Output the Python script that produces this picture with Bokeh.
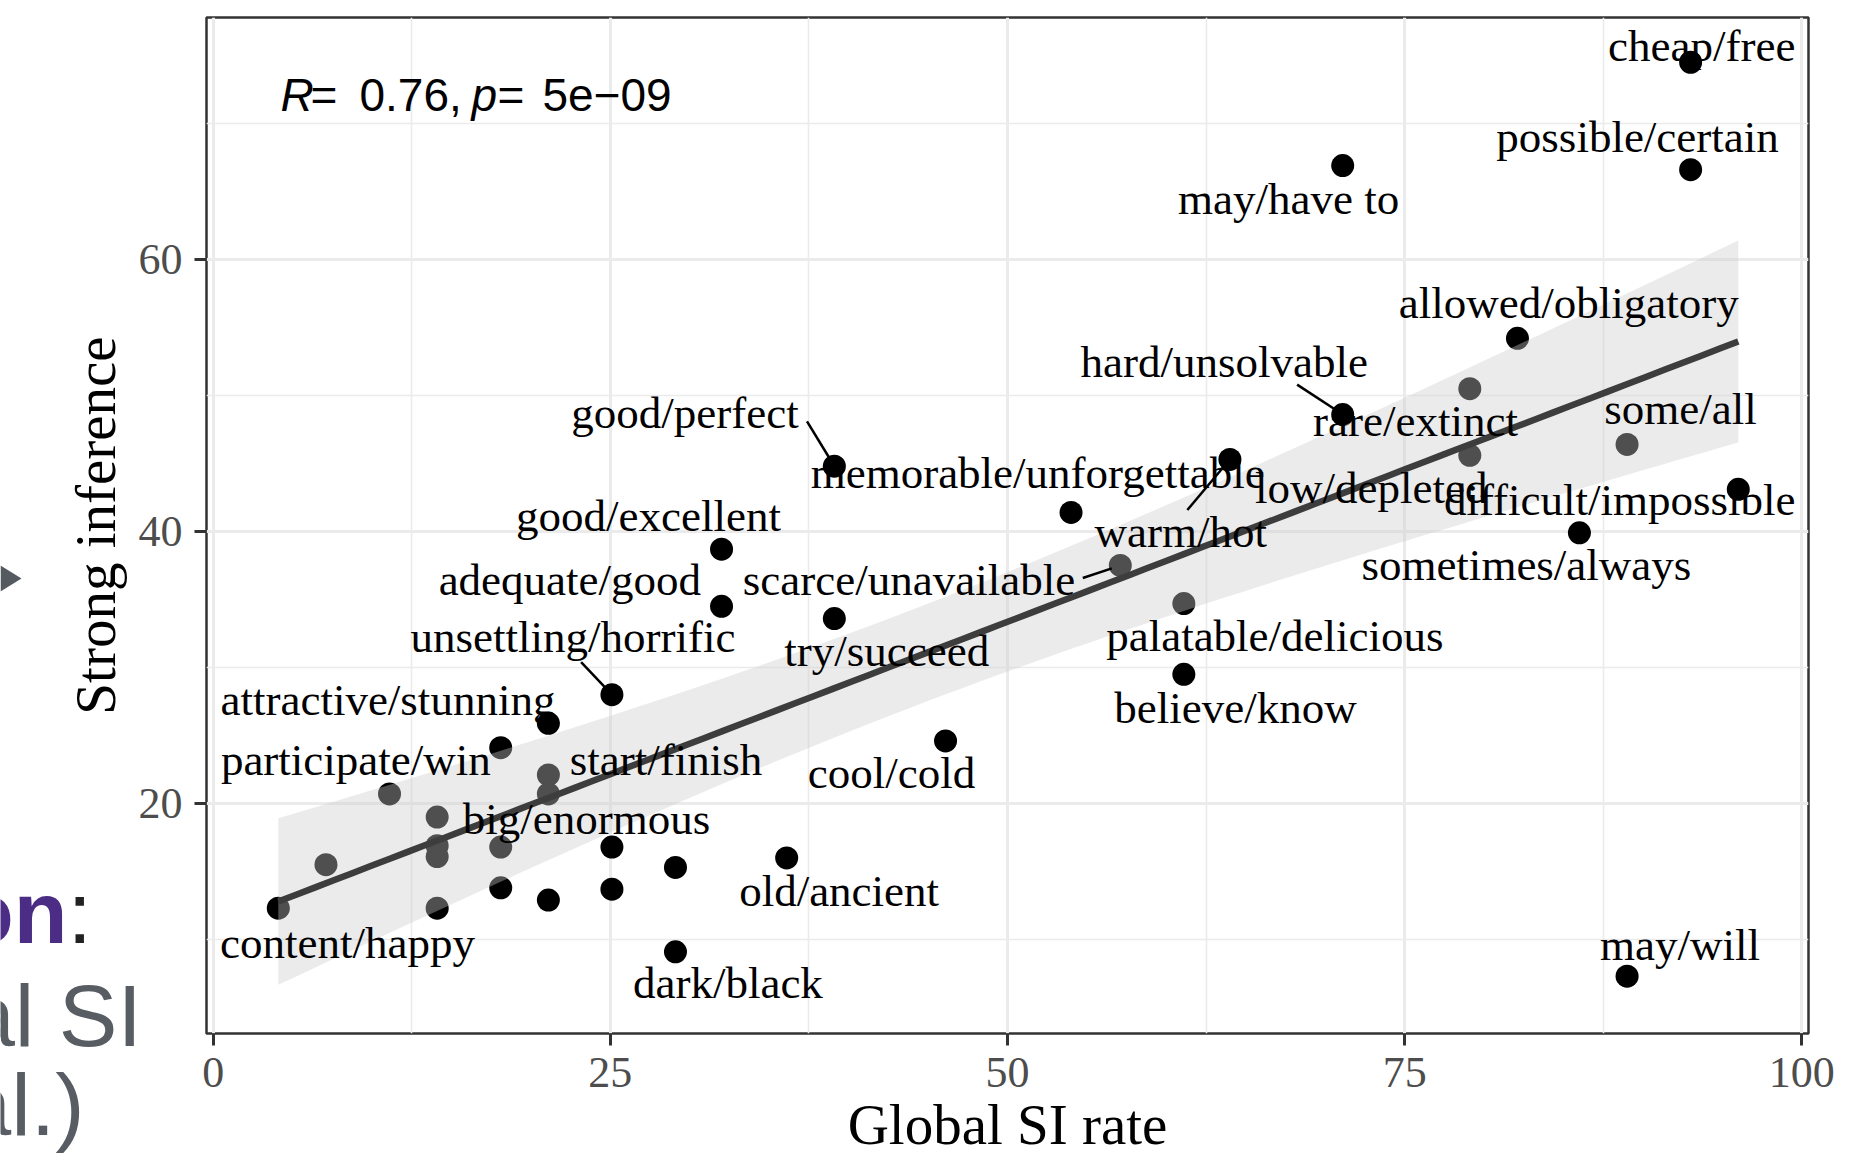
import numpy as np
from bokeh.plotting import figure
from bokeh.layouts import row
from bokeh.models import Range1d, FixedTicker, Label, ColumnDataSource
from bokeh.core.properties import value
from bokeh.embed import file_html
from bokeh.resources import INLINE

# ---------------- data ----------------
pairs = ["cheap/free", "possible/certain", "may/have to", "allowed/obligatory",
         "rare/extinct", "hard/unsolvable", "some/all", "low/depleted", "warm/hot",
         "good/perfect", "difficult/impossible", "memorable/unforgettable",
         "sometimes/always", "good/excellent", "scarce/unavailable",
         "palatable/delicious", "adequate/good", "try/succeed", "believe/know",
         "unsettling/horrific", "attractive/stunning", "cool/cold", "participate/win",
         "start/finish", "p25", "big/enormous", "p27", "p28", "p29", "p30", "p31",
         "old/ancient", "p33", "p34", "p35", "p36", "p37", "content/happy", "p39",
         "dark/black", "may/will"]
global_si = [93.0, 93.0, 71.1, 82.1, 79.1, 71.1, 89.0, 79.1, 64.0, 39.1, 96.0, 54.0,
             86.0, 32.0, 57.1, 61.1, 32.0, 39.1, 61.1, 25.1, 21.1, 46.1, 18.1, 21.1,
             11.1, 21.1, 14.1, 14.1, 14.1, 18.1, 25.1, 36.1, 7.1, 29.1, 18.1, 25.1,
             21.1, 4.1, 14.1, 29.1, 89.0]
strong_inf = [74.5, 66.6, 66.9, 54.2, 50.5, 48.6, 46.4, 45.6, 45.3, 44.8, 43.1, 41.4,
              39.9, 38.7, 37.5, 34.7, 34.5, 33.6, 29.5, 28.0, 25.9, 24.6, 24.1, 22.1,
              20.7, 20.7, 19.0, 16.9, 16.1, 16.8, 16.8, 16.0, 15.5, 15.3, 13.8, 13.7,
              12.9, 12.3, 12.3, 9.1, 7.3]
x_ticks = [0, 25, 50, 75, 100]
y_ticks = [20, 40, 60]
stat_text = ["R", "=", "0.76,", "p", "=", "5e\u221209"]
x_title = "Global SI rate"
y_title = "Strong inference"
slide_bits = ["on", ":", "al SI", "al.)"]

# ---------------- placement of the repelled labels (label anchors, data coords) ----------------
label_pos = {
    "cheap/free": (93.7, 74.65), "possible/certain": (89.66, 68.0),
    "may/have to": (67.7, 63.4), "allowed/obligatory": (85.33, 55.8),
    "hard/unsolvable": (63.64, 51.4), "rare/extinct": (75.68, 47.08),
    "some/all": (92.36, 47.94), "low/depleted": (72.9, 42.16),
    "difficult/impossible": (88.54, 41.3), "warm/hot": (60.9, 38.9),
    "sometimes/always": (82.66, 36.47), "palatable/delicious": (66.83, 31.3),
    "believe/know": (64.35, 26.0), "may/will": (92.33, 8.6),
    "good/perfect": (29.7, 47.7), "memorable/unforgettable": (51.9, 43.3),
    "good/excellent": (27.4, 40.13), "adequate/good": (22.45, 35.4),
    "scarce/unavailable": (43.8, 35.4), "unsettling/horrific": (22.65, 31.18),
    "try/succeed": (42.4, 30.2), "attractive/stunning": (11.0, 26.56),
    "participate/win": (8.98, 22.2), "start/finish": (28.5, 22.2),
    "cool/cold": (42.7, 21.18), "big/enormous": (23.5, 17.83),
    "old/ancient": (39.4, 12.52), "content/happy": (8.46, 8.68),
    "dark/black": (32.4, 5.79),
}
segment_start = {
    "good/perfect": (37.38, 48.1), "unsettling/horrific": (23.16, 30.4),
    "hard/unsolvable": (68.23, 50.8), "warm/hot": (61.32, 41.58),
    "scarce/unavailable": (54.74, 36.58),
}

X0, X1 = -0.42, 100.42
Y0, Y1 = 3.09, 77.79
FW, FH = 1602, 1016
kx = FW / (X1 - X0)
ky = FH / (Y1 - Y0)
TXT_SHIFT = 14  # px: SVG text baseline correction

W_LEFT = 134
W_MAIN = 1854 - W_LEFT
H = 1162

# ---------------- left strip: y title + remnants of the slide ----------------
left = figure(width=W_LEFT, height=H, output_backend="svg", toolbar_location=None,
              x_range=Range1d(0, W_LEFT), y_range=Range1d(0, H),
              x_axis_type=None, y_axis_type=None, min_border=0,
              outline_line_color=None, background_fill_color="white",
              border_fill_color="white", frame_align=False)
left.text(x=[95], y=[H - 525], text=[y_title], angle=np.pi / 2,
          text_font=value("Liberation Serif"), text_font_size="57px",
          text_color="black", text_align="center", text_baseline="alphabetic")
left.patch(x=[0, 21, 0], y=[H - 565, H - 578, H - 591], fill_color="#555A60",
           line_color=None)
s88 = 23
left.text(x=[67], y=[H - 935 + s88], text=[slide_bits[0]],
          text_font=value("Liberation Sans"), text_font_size="88px",
          text_font_style="bold", text_color="#4B2D86", text_align="right",
          text_baseline="alphabetic")
left.text(x=[67], y=[H - 935 + s88], text=[slide_bits[1]],
          text_font=value("Liberation Sans"), text_font_size="88px",
          text_color="#222222", text_align="left", text_baseline="alphabetic")
left.text(x=[133.5], y=[H - 1038 + s88], text=[slide_bits[2]], x_offset=8,
          text_font=value("Liberation Sans"), text_font_size="88px",
          text_color="#585D63", text_align="right", text_baseline="alphabetic")
left.text(x=[84], y=[H - 1127 + s88], text=[slide_bits[3]],
          text_font=value("Liberation Sans"), text_font_size="88px",
          text_color="#585D63", text_align="right", text_baseline="alphabetic")

# ---------------- main chart ----------------
p = figure(width=W_MAIN, height=H, output_backend="svg", toolbar_location=None,
           x_range=Range1d(X0, X1), y_range=Range1d(Y0, Y1),
           min_border_left=206 - W_LEFT, min_border_right=1854 - 1808,
           min_border_top=17, min_border_bottom=H - 1033,
           background_fill_color="white", border_fill_color="white",
           frame_align=False)
p.outline_line_color = "#333333"
p.outline_line_width = 2.5

xt = FixedTicker(ticks=x_ticks, minor_ticks=[12.5, 37.5, 62.5, 87.5])
yt = FixedTicker(ticks=y_ticks, minor_ticks=[10, 30, 50, 70])
p.xaxis[0].ticker = xt
p.xgrid[0].ticker = xt
p.yaxis[0].ticker = yt
p.ygrid[0].ticker = yt
for g in (p.xgrid[0], p.ygrid[0]):
    g.grid_line_color = "#EBEBEB"
    g.grid_line_width = 3
    g.minor_grid_line_color = "#EBEBEB"
    g.minor_grid_line_width = 1.6
for ax in (p.xaxis[0], p.yaxis[0]):
    ax.axis_line_color = None
    ax.major_tick_line_color = "#333333"
    ax.major_tick_line_width = 3
    ax.major_tick_out = 12
    ax.major_tick_in = 0
    ax.minor_tick_line_color = None
    ax.major_label_text_font = "Liberation Serif"
    ax.major_label_text_font_size = "44px"
    ax.major_label_text_color = "#4D4D4D"
p.xaxis[0].major_label_standoff = 12
p.yaxis[0].major_label_standoff = 12
p.xaxis[0].axis_label = x_title
p.xaxis[0].axis_label_text_font = "Liberation Serif"
p.xaxis[0].axis_label_text_font_size = "57px"
p.xaxis[0].axis_label_text_font_style = "normal"
p.xaxis[0].axis_label_text_color = "black"
p.xaxis[0].axis_label_standoff = 3

# points
p.scatter(global_si, strong_inf, size=23, fill_color="black", line_color=None)

# linear fit with 95% confidence band, computed from the data
xa = np.array(global_si)
ya = np.array(strong_inf)
n = len(xa)
b1, b0 = np.polyfit(xa, ya, 1)
res = ya - (b0 + b1 * xa)
s = np.sqrt(np.sum(res ** 2) / (n - 2))
sxx = np.sum((xa - xa.mean()) ** 2)
T975 = 2.0227
xs = np.linspace(xa.min(), xa.max(), 80)
fit = b0 + b1 * xs
half = T975 * s * np.sqrt(1.0 / n + (xs - xa.mean()) ** 2 / sxx)
p.varea(x=xs, y1=fit - half, y2=fit + half, fill_color="#CCCCCC", fill_alpha=0.39)
p.line(xs, fit, line_color="#3D3D3D", line_width=6.5)

# segments from labels to points
sx0, sy0, sx1, sy1 = [], [], [], []
for name, (lx, ly) in segment_start.items():
    i = pairs.index(name)
    px, py = global_si[i], strong_inf[i]
    dx, dy = (lx - px) * kx, (ly - py) * ky
    d = np.hypot(dx, dy)
    pad = 9.0
    sx0.append(lx); sy0.append(ly)
    sx1.append(px + dx / d * pad / kx); sy1.append(py + dy / d * pad / ky)
p.segment(sx0, sy0, sx1, sy1, line_color="black", line_width=2.5)

# labels
names = [k for k in pairs if k in label_pos]
lab = ColumnDataSource(dict(
    x=[label_pos[k][0] for k in names],
    y=[label_pos[k][1] + TXT_SHIFT / ky for k in names],
    t=names))
p.text(x="x", y="y", text="t", source=lab, text_font=value("Liberation Serif"),
       text_font_size="45px", text_align="center", text_baseline="alphabetic",
       text_color="black")

# statistics annotation (screen offsets from the frame's lower-left corner)
stat_x = [74, 104, 153, 265, 291, 336]
for t, sx in zip(stat_text, stat_x):
    p.add_layout(Label(x=sx, y=939, x_units="screen", y_units="screen", text=t,
                       text_font="Liberation Sans", text_font_size="46px",
                       text_font_style="italic" if t in ("R", "p") else "normal",
                       text_color="black", text_align="left",
                       text_baseline="alphabetic"))

layout = row(left, p, spacing=0)
open("out.html", "w").write(file_html(layout, INLINE))
